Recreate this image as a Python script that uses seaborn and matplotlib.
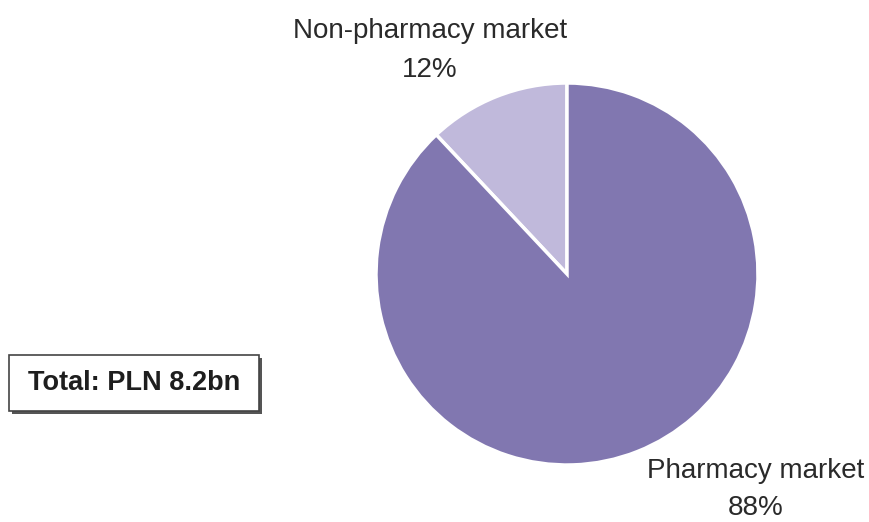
import matplotlib
matplotlib.use("Agg")
import matplotlib.pyplot as plt
import matplotlib.patches as mpatches
import seaborn as sns

categories = ["Non-pharmacy market", "Pharmacy market"]
shares = [12, 88]
pct_labels = ["12%", "88%"]
total_label = "Total: PLN 8.2bn"

sns.set_style("white")
plt.rcParams["font.family"] = ["Liberation Sans", "DejaVu Sans"]

colors = sns.color_palette(["#C0B9DB", "#8177B0"])

fig = plt.figure(figsize=(8.69, 5.22), dpi=100)
ax = fig.add_axes([376 / 869, 1 - 465 / 522, 382 / 869, 382 / 522])
ax.pie(shares, colors=colors, startangle=90, counterclock=True,
       wedgeprops=dict(edgecolor="white", linewidth=2.5))
ax.set_aspect("equal")
ax.set_xlim(-1.0, 1.0)
ax.set_ylim(-1.0, 1.0)
ax.axis("off")

txt_color = "#2a2a2a"
# Slice labels
fig.text(430 / 869, 1 - 38 / 522, categories[0], ha="center", va="baseline",
         fontsize=20, color=txt_color)
fig.text(430 / 869, 1 - 77 / 522, pct_labels[0], ha="center", va="baseline",
         fontsize=20, color=txt_color)
fig.text(756 / 869, 1 - 478 / 522, categories[1], ha="center", va="baseline",
         fontsize=20, color=txt_color)
fig.text(756 / 869, 1 - 515 / 522, pct_labels[1], ha="center", va="baseline",
         fontsize=20, color=txt_color)

# Total box with shadow
bx0, by_top, bx1, by_bot = 9, 355, 259, 411
sh = 3
shadow = mpatches.Rectangle(((bx0 + sh) / 869, 1 - (by_bot + sh) / 522),
                            (bx1 - bx0) / 869, (by_bot - by_top) / 522,
                            transform=fig.transFigure, facecolor="#555555",
                            edgecolor="none", zorder=1)
box = mpatches.Rectangle((bx0 / 869, 1 - by_bot / 522),
                         (bx1 - bx0) / 869, (by_bot - by_top) / 522,
                         transform=fig.transFigure, facecolor="white",
                         edgecolor="#444444", linewidth=1.2, zorder=2)
fig.add_artist(shadow)
fig.add_artist(box)
fig.text(((bx0 + bx1) / 2) / 869, 1 - 383 / 522, total_label, ha="center",
         va="center", fontsize=19.5, fontweight="bold", color="#1e1e1e", zorder=3)

fig.savefig("out.png", dpi=100)
